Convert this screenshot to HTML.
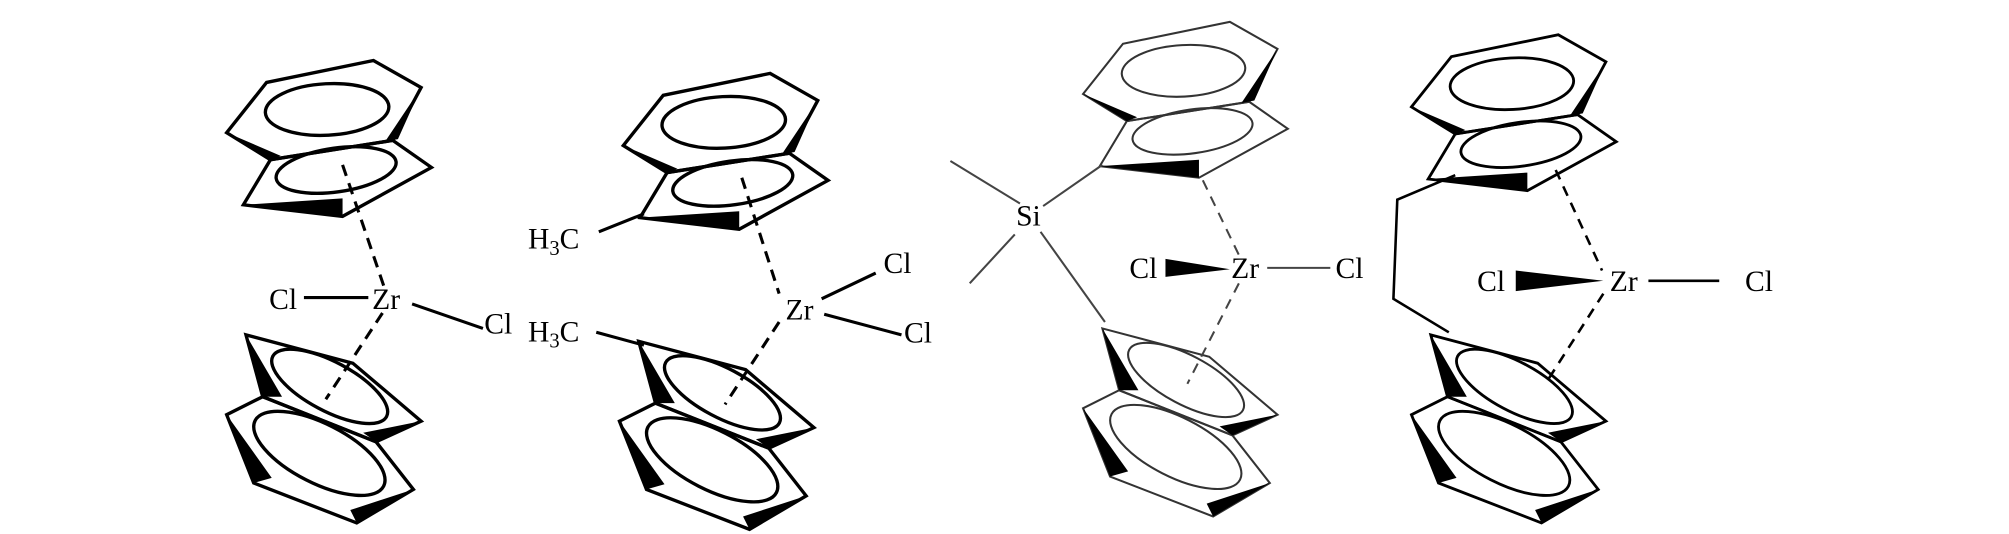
<!DOCTYPE html>
<html><head><meta charset="utf-8"><style>
html,body{margin:0;padding:0;background:#fff}
svg{display:block}
text{font-family:"Liberation Serif",serif;font-size:23px;fill:#000}
</style></head><body>
<svg width="2009" height="534" viewBox="0 0 1560 414.6" preserveAspectRatio="none" xmlns="http://www.w3.org/2000/svg">
<defs>
<g id="top">
 <polygon points="176,103 207,64 290,47 327,68 305,109 210,124" fill="none"/>
 <polygon points="210,124 305,109 335,130 266,168 189,159" fill="none"/>
 <polygon points="176,103 210,124 218,121" stroke="none"/>
 <polygon points="327,68 309,108 299,110" stroke="none"/>
 <polygon points="189,159 266,168 266,154" stroke="none"/>
 <ellipse cx="254" cy="85" rx="48" ry="20" transform="rotate(-3 254 85)" fill="none"/>
 <ellipse cx="261" cy="132" rx="47" ry="17" transform="rotate(-8 261 132)" fill="none"/>
</g>
<g id="bot">
 <polygon points="191,260 274,282 327,327 292,343 204,308" fill="none"/>
 <polygon points="204,308 292,343 321,380 277,406 197,375 176,322" fill="none"/>
 <polygon points="191,260 204,308 219,308" stroke="none"/>
 <polygon points="176,322 197,375 211,371" stroke="none"/>
 <polygon points="327,327 292,343 282,336" stroke="none"/>
 <polygon points="272,396 277,406 321,380" stroke="none"/>
 <ellipse cx="256" cy="300" rx="50" ry="19" transform="rotate(28 256 300)" fill="none"/>
 <ellipse cx="248" cy="352" rx="56" ry="23" transform="rotate(27 248 352)" fill="none"/>
</g>
</defs>
<!-- molecule 1 -->
<g stroke="#000" stroke-width="2.6" fill="#000">
 <use href="#top"/>
 <use href="#bot"/>
</g>
<g stroke="#000" stroke-width="2.4" fill="none">
 <line x1="266" y1="128" x2="298" y2="222" stroke-dasharray="9,6"/>
 <line x1="297" y1="243" x2="253" y2="310" stroke-dasharray="9,6"/>
 <line x1="236" y1="231" x2="286" y2="231"/>
 <line x1="320" y1="236" x2="375" y2="255"/>
</g>
<text x="209" y="240">Cl</text><text x="289" y="240">Zr</text><text x="376" y="259">Cl</text>
<!-- molecule 2 -->
<g stroke="#000" stroke-width="2.6" fill="#000">
 <use href="#top" transform="translate(308,10)"/>
 <use href="#bot" transform="translate(305,5)"/>
</g>
<g stroke="#000" stroke-width="2.4" fill="none">
 <line x1="576" y1="138" x2="605" y2="228" stroke-dasharray="9,6"/>
 <line x1="605" y1="250" x2="563" y2="314" stroke-dasharray="9,6"/>
 <line x1="465" y1="180" x2="500" y2="166"/>
 <line x1="463" y1="258" x2="500" y2="268"/>
 <line x1="638" y1="232" x2="680" y2="212"/>
 <line x1="640" y1="244" x2="700" y2="260"/>
</g>
<text x="410" y="193">H<tspan font-size="16" dy="5">3</tspan><tspan dy="-5">C</tspan></text>
<text x="410" y="265">H<tspan font-size="16" dy="5">3</tspan><tspan dy="-5">C</tspan></text>
<text x="610" y="248">Zr</text><text x="686" y="212">Cl</text><text x="702" y="266">Cl</text>
<!-- molecule 3 -->
<g stroke="#333" stroke-width="1.6" fill="#000">
 <use href="#top" transform="translate(665,-30)"/>
 <use href="#bot" transform="translate(665,-5)"/>
</g>
<g stroke="#444" stroke-width="1.6" fill="none">
 <line x1="934" y1="140" x2="963" y2="200" stroke-dasharray="8,6"/>
 <line x1="962" y1="220" x2="922" y2="298" stroke-dasharray="8,6"/>
 <line x1="738" y1="125" x2="792" y2="158"/>
 <line x1="753" y1="220" x2="788" y2="182"/>
 <line x1="810" y1="160" x2="856" y2="128"/>
 <line x1="808" y1="180" x2="858" y2="250"/>
 <line x1="984" y1="208" x2="1033" y2="208"/>
</g>
<polygon points="905,201 905,215 955,209" fill="#000"/>
<text x="789" y="175">Si</text><text x="877" y="216">Cl</text><text x="956" y="216">Zr</text><text x="1037" y="216">Cl</text>
<!-- molecule 4 -->
<g stroke="#000" stroke-width="2.2" fill="#000">
 <use href="#top" transform="translate(920,-20)"/>
 <use href="#bot" transform="translate(920,0)"/>
</g>
<g stroke="#000" stroke-width="2" fill="none">
 <polyline points="1130,136 1085,155 1082,232 1125,258"/>
 <line x1="1208" y1="132" x2="1244" y2="210" stroke-dasharray="8,6"/>
 <line x1="1245" y1="228" x2="1200" y2="298" stroke-dasharray="8,6"/>
 <line x1="1280" y1="218" x2="1335" y2="218"/>
</g>
<polygon points="1177,210 1177,226 1245,218" fill="#000"/>
<text x="1147" y="226">Cl</text><text x="1250" y="226">Zr</text><text x="1355" y="226">Cl</text>
</svg>
</body></html>
